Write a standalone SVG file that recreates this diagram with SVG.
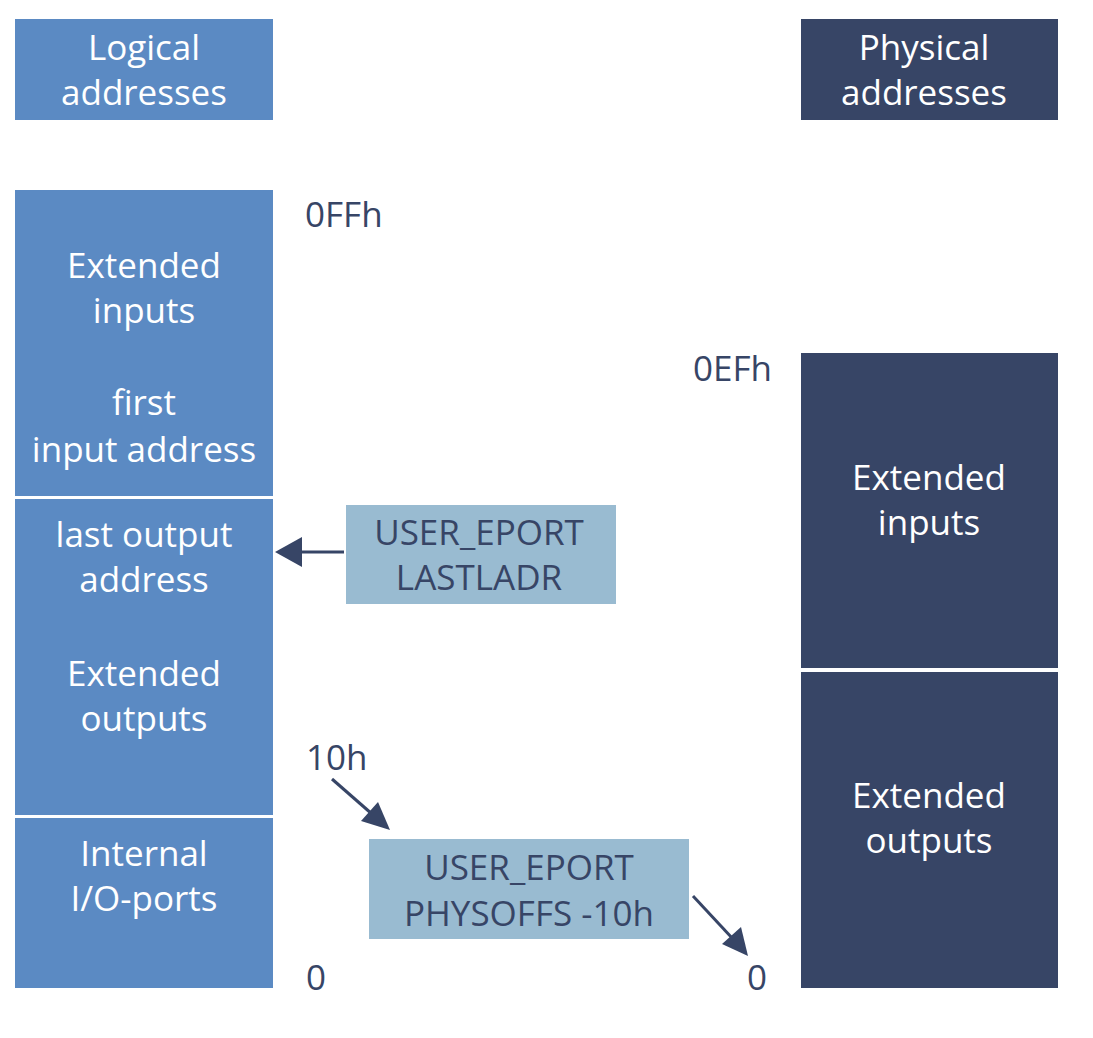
<svg xmlns="http://www.w3.org/2000/svg" width="1093" height="1038" viewBox="0 0 1093 1038">
<defs>
<style>
.t{font-family:"Open Sans","Noto Sans",sans-serif;font-size:35px;text-anchor:middle}
.w{fill:#ffffff}
.d{fill:#374566}
.l{font-family:"Open Sans","Noto Sans",sans-serif;font-size:35px;fill:#374566}
.blue{fill:#5B8AC3}
.navy{fill:#374566}
.light{fill:#99BBD1}
.conn{stroke:#374566;stroke-width:3;fill:none}
</style>
</defs>
<rect width="1093" height="1038" fill="#ffffff"/>
<g id="hdr-logical">
<rect class="blue" x="15" y="19" width="258" height="101"/>
<text class="t w" x="144" y="60">Logical</text>
<text class="t w" x="144" y="105">addresses</text>
</g>
<g id="hdr-physical">
<rect class="navy" x="801" y="19" width="257" height="101"/>
<text class="t w" x="924" y="60">Physical</text>
<text class="t w" x="924" y="105">addresses</text>
</g>
<g id="log-inputs">
<rect class="blue" x="15" y="190" width="258" height="306"/>
<text class="t w" x="144" y="278">Extended</text>
<text class="t w" x="144" y="323">inputs</text>
<text class="t w" x="144" y="415">first</text>
<text class="t w" x="144" y="462">input address</text>
</g>
<g id="log-outputs">
<rect class="blue" x="15" y="499" width="258" height="316"/>
<text class="t w" x="144" y="547">last output</text>
<text class="t w" x="144" y="592">address</text>
<text class="t w" x="144" y="686">Extended</text>
<text class="t w" x="144" y="731">outputs</text>
</g>
<g id="log-internal">
<rect class="blue" x="15" y="818" width="258" height="170"/>
<text class="t w" x="144" y="866">Internal</text>
<text class="t w" x="144" y="911">I/O-ports</text>
</g>
<g id="phys-inputs">
<rect class="navy" x="801" y="353" width="257" height="315"/>
<text class="t w" x="929" y="490">Extended</text>
<text class="t w" x="929" y="535">inputs</text>
</g>
<g id="phys-outputs">
<rect class="navy" x="801" y="672" width="257" height="316"/>
<text class="t w" x="929" y="808">Extended</text>
<text class="t w" x="929" y="853">outputs</text>
</g>
<g id="lastladr">
<rect class="light" x="346" y="505" width="270" height="99"/>
<text class="t d" x="479" y="545">USER_EPORT</text>
<text class="t d" x="479" y="590">LASTLADR</text>
</g>
<g id="physoffs">
<rect class="light" x="369" y="839" width="320" height="100"/>
<text class="t d" x="529" y="880">USER_EPORT</text>
<text class="t d" x="529" y="926">PHYSOFFS -10h</text>
</g>
<g id="labels">
<text class="l" x="305" y="227">0FFh</text>
<text class="l" x="693" y="381">0EFh</text>
<text class="l" x="306" y="770">10h</text>
<text class="l" x="306" y="990">0</text>
<text class="l" x="747" y="990">0</text>
</g>
<g id="connectors">
<line class="conn" x1="344" y1="552" x2="300" y2="552"/>
<polygon points="275,552 302,537 302,567" fill="#374566"/>
<line class="conn" x1="332" y1="779" x2="372" y2="814"/>
<polygon points="390,830 361,821 378,802" fill="#374566"/>
<line class="conn" x1="693" y1="896" x2="733" y2="939"/>
<polygon points="748,956 722,944 741,927" fill="#374566"/>
</g>
</svg>
